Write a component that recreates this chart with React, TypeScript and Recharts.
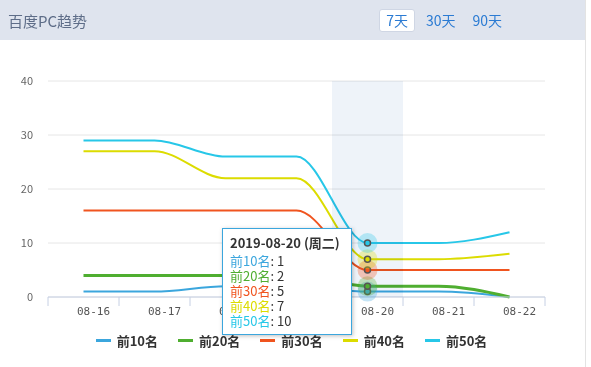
import { LineChart, Line, XAxis, YAxis, CartesianGrid, Tooltip, Legend } from 'recharts'

const categories = ['08-16', '08-17', '08-18', '08-19', '08-20', '08-21', '08-22']
const fullDates = [
  '2019-08-16 (周五)',
  '2019-08-17 (周六)',
  '2019-08-18 (周日)',
  '2019-08-19 (周一)',
  '2019-08-20 (周二)',
  '2019-08-21 (周三)',
  '2019-08-22 (周四)',
]
const top10 = [1, 1, 2, 2, 1, 1, 0]
const top20 = [4, 4, 4, 4, 2, 2, 0]
const top30 = [16, 16, 16, 16, 5, 5, 5]
const top40 = [27, 27, 22, 22, 7, 7, 8]
const top50 = [29, 29, 26, 26, 10, 10, 12]
const yTicks = [0, 10, 20, 30, 40]

const series = [
  { key: 'top10', name: '前10名', color: '#3ba6dd', width: 2 },
  { key: 'top20', name: '前20名', color: '#4fae30', width: 3 },
  { key: 'top30', name: '前30名', color: '#f0541f', width: 2 },
  { key: 'top40', name: '前40名', color: '#dcdc00', width: 2 },
  { key: 'top50', name: '前50名', color: '#27c7e8', width: 2 },
]

const data = categories.map((c, i) => ({
  day: c,
  full: fullDates[i],
  top10: top10[i],
  top20: top20[i],
  top30: top30[i],
  top40: top40[i],
  top50: top50[i],
}))

const CHART_W = 585
const CHART_H = 327
const MARGIN = { top: 41, right: 40, left: 8, bottom: 10 }
const Y_W = 40
const PLOT_W = CHART_W - MARGIN.left - MARGIN.right - Y_W
const BAND = PLOT_W / categories.length

const XTick = (props: any) => {
  const { x, y, payload, index } = props
  const left = x - BAND / 2
  return (
    <g>
      <line x1={left} x2={left} y1={y} y2={y + 9} stroke="#c6d0e4" />
      {index === categories.length - 1 && (
        <line x1={x + BAND / 2} x2={x + BAND / 2} y1={y} y2={y + 9} stroke="#c6d0e4" />
      )}
      <text x={x + 10} y={y + 18} textAnchor="middle" fill="#555" fontSize={11} fontFamily="DejaVu Sans Mono, monospace">
        {payload.value}
      </text>
    </g>
  )
}

const BandCursor = (props: any) => {
  const { points, top, height } = props
  if (!points || !points.length) return null
  return (
    <rect
      x={points[0].x - BAND / 2}
      y={top}
      width={BAND}
      height={height}
      fill="#eef3f9"
      style={{ mixBlendMode: 'multiply' }}
    />
  )
}

const makeDot = (color: string) => (props: any) => {
  const { cx, cy } = props
  return (
    <g>
      <circle cx={cx} cy={cy} r={10} fill={color} fillOpacity={0.3} />
      <circle cx={cx} cy={cy} r={3} fill={color} stroke="#555" strokeWidth={1.5} />
    </g>
  )
}

const TipContent = ({ active, payload }: any) => {
  if (!active || !payload || !payload.length) return null
  return (
    <div
      style={{
        background: '#fff',
        border: '1px solid #3ba6dd',
        boxShadow: '1px 1px 4px rgba(0,0,0,0.25)',
        padding: '5px 7px 6px 7px',
        fontFamily: '"Noto Sans CJK SC", sans-serif',
        fontSize: 13,
        lineHeight: '15px',
        color: '#333',
        width: 114,
      }}
    >
      <div style={{ fontWeight: 'bold', marginBottom: 1, lineHeight: '18px' }}>{payload[0].payload.full}</div>
      {payload.map((p: any) => (
        <div key={p.dataKey}>
          <span style={{ color: p.color }}>{p.name}</span>
          <span>: {p.value}</span>
        </div>
      ))}
    </div>
  )
}

const LegendContent = ({ payload }: any) => (
  <div
    style={{
      height: 30,
      boxSizing: 'border-box',
      paddingBottom: 3,
      display: 'flex',
      justifyContent: 'center',
      alignItems: 'center',
      paddingLeft: 30,
      fontFamily: '"Noto Sans CJK SC", sans-serif',
      fontSize: 13,
      fontWeight: 'bold',
      color: '#333',
    }}
  >
    {(payload || []).map((p: any) => (
      <div key={p.value} style={{ display: 'flex', alignItems: 'center', margin: '0 10px' }}>
        <span style={{ display: 'inline-block', width: 15, height: 3, background: p.color, marginRight: 6 }} />
        <span>{p.value}</span>
      </div>
    ))}
  </div>
)

export default function App() {
  return (
    <div
      style={{
        position: 'absolute',
        left: 0,
        top: 0,
        width: CHART_W,
        height: 367,
        borderRight: '1px solid #e3e3e3',
        background: '#fff',
        fontFamily: '"Noto Sans CJK SC", sans-serif',
      }}
    >
      <div
        style={{
          height: 40,
          background: '#dfe4ee',
          display: 'flex',
          alignItems: 'center',
          justifyContent: 'space-between',
          padding: '0 83px 0 8px',
        }}
      >
        <span style={{ fontSize: 15, color: '#5e6d88' }}>百度PC趋势</span>
        <div style={{ display: 'flex', alignItems: 'center', fontSize: 14, color: '#2b7bd3' }}>
          <span
            style={{
              background: '#fff',
              border: '1px solid #cfd6e4',
              borderRadius: 3,
              padding: '1px 6px',
              lineHeight: '19px',
            }}
          >
            7天
          </span>
          <span style={{ marginLeft: 11 }}>30天</span>
          <span style={{ marginLeft: 17 }}>90天</span>
        </div>
      </div>
      <LineChart width={CHART_W} height={CHART_H} data={data} margin={MARGIN}>
        <CartesianGrid vertical={false} stroke="#e6e6e6" />
        <XAxis
          dataKey="day"
          stroke="#c6d0e4"
          tickLine={false}
          tickSize={0}
          tickMargin={0}
          height={30}
          interval={0}
          padding={{ left: BAND / 2, right: BAND / 2 }}
          tick={<XTick />}
        />
        <YAxis
          width={Y_W}
          domain={[0, 40]}
          ticks={yTicks}
          axisLine={false}
          tickLine={false}
          tick={{ fill: '#666', fontSize: 11, dx: -7 }}
        />
        <Tooltip
          content={<TipContent />}
          cursor={<BandCursor />}
          defaultIndex={4}
          active
          position={{ x: 222, y: 188 }}
          isAnimationActive={false}
          wrapperStyle={{ zIndex: 10 }}
        />
        <Legend verticalAlign="bottom" content={<LegendContent />} />
        {series.map((s) => (
          <Line
            key={s.key}
            type="monotone"
            dataKey={s.key}
            name={s.name}
            stroke={s.color}
            strokeWidth={s.width}
            dot={false}
            activeDot={makeDot(s.color)}
            isAnimationActive={false}
          />
        ))}
      </LineChart>
    </div>
  )
}
